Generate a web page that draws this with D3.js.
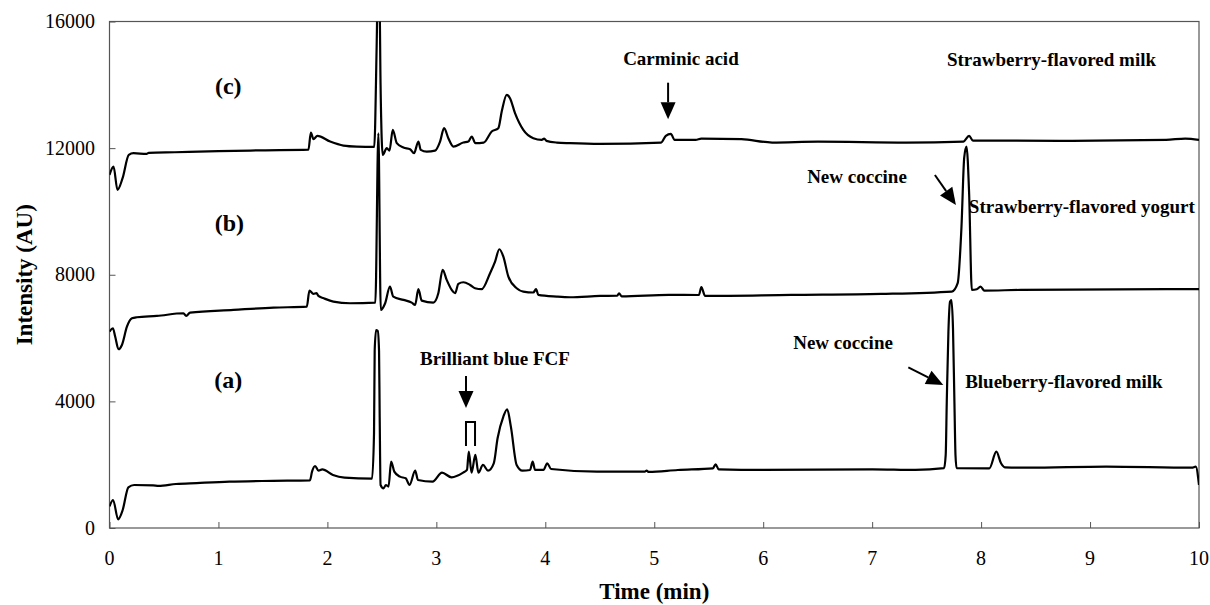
<!DOCTYPE html>
<html>
<head>
<meta charset="utf-8">
<script src="https://cdn.jsdelivr.net/npm/d3@7"></script>
<style>
  html, body { margin: 0; padding: 0; background: #fff; overflow: hidden; }
  svg { display: block; }
</style>
</head>
<body>
<svg width="1210" height="605"></svg>
<script>
// chromatogram traces: [time (min), intensity (AU)]
const traceA = [[0.0,680],[0.033,885],[0.079,275],[0.121,569],[0.173,1285],[0.226,1359],[0.40,1349],[0.45,1330],[0.61,1390],[0.8,1420],[1.10,1464],[1.5,1490],[1.84,1506],[1.859,1780],[1.887,1959],[1.918,1812],[1.953,1854],[2.051,1675],[2.157,1590],[2.41,1558],[2.428,3000],[2.434,5600],[2.447,6250],[2.462,6230],[2.474,5600],[2.48,3500],[2.488,1360],[2.515,1254],[2.537,1359],[2.561,1306],[2.585,2095],[2.614,1780],[2.666,1622],[2.719,1570],[2.754,1359],[2.806,1812],[2.831,1517],[2.965,1464],[3.052,1748],[3.14,1601],[3.246,1748],[3.281,1833],[3.298,2411],[3.323,1748],[3.358,2307],[3.386,1748],[3.428,1991],[3.474,1812],[3.527,2044],[3.562,2835],[3.615,3517],[3.65,3751],[3.684,3201],[3.737,1991],[3.79,1812],[3.86,1833],[3.884,2095],[3.906,1833],[3.983,1833],[4.018,2044],[4.053,1864],[4.474,1780],[4.913,1780],[4.93,1810],[4.95,1770],[5.216,1833],[5.539,1886],[5.563,2012],[5.592,1854],[6.003,1833],[7.004,1854],[7.397,1833],[7.66,1890],[7.675,2300],[7.685,4000],[7.70,6200],[7.715,7150],[7.728,7200],[7.742,6300],[7.755,4000],[7.765,2300],[7.775,1890],[8.076,1886],[8.14,2411],[8.183,2044],[8.218,1918],[8.433,1905],[9.148,1937],[9.934,1905],[9.97,1937],[10.0,1359]];

const traceB = [[0.0,6203],[0.031,6310],[0.052,6050],[0.083,5647],[0.114,5783],[0.16,6361],[0.206,6626],[0.251,6658],[0.435,6699],[0.679,6784],[0.704,6699],[0.74,6804],[1.138,6889],[1.505,6962],[1.811,6993],[1.835,7499],[1.872,7394],[1.9,7420],[1.917,7331],[1.966,7258],[2.055,7151],[2.208,7100],[2.44,7120],[2.468,12470],[2.49,6889],[2.53,7100],[2.574,7625],[2.605,7309],[2.698,7205],[2.774,7120],[2.805,7047],[2.835,7543],[2.866,7183],[2.972,7120],[3.018,7416],[3.058,8153],[3.095,7837],[3.141,7521],[3.172,7416],[3.202,7710],[3.248,7763],[3.309,7679],[3.355,7574],[3.416,7543],[3.493,8048],[3.539,8415],[3.578,8806],[3.615,8573],[3.661,7941],[3.737,7574],[3.798,7467],[3.89,7440],[3.915,7543],[3.936,7363],[4.105,7309],[4.227,7290],[4.503,7331],[4.66,7340],[4.677,7416],[4.70,7320],[5.134,7363],[5.41,7360],[5.432,7606],[5.467,7331],[6.257,7363],[7.083,7394],[7.732,7468],[7.785,7732],[7.82,9521],[7.845,11700],[7.866,12050],[7.89,10577],[7.915,7521],[7.96,7543],[7.995,7625],[8.03,7499],[8.364,7521],[9.698,7543],[10.0,7543]];

const traceC = [[0.0,11155],[0.037,11417],[0.073,10681],[0.12,11050],[0.177,11787],[0.22,11840],[0.34,11818],[0.36,11850],[0.6,11870],[1.0,11905],[1.4,11930],[1.826,11950],[1.848,12492],[1.872,12283],[1.908,12387],[2.025,12207],[2.147,12081],[2.27,12049],[2.43,12040],[2.452,15200],[2.462,17000],[2.478,16800],[2.488,14000],[2.508,11787],[2.545,12000],[2.57,11922],[2.6,12577],[2.637,12157],[2.698,12018],[2.759,11966],[2.795,11840],[2.835,12207],[2.857,11945],[2.912,11891],[2.988,11922],[3.034,12207],[3.071,12631],[3.11,12313],[3.156,12049],[3.248,12176],[3.294,12207],[3.325,12365],[3.358,12157],[3.434,12176],[3.508,12524],[3.569,12631],[3.6,13155],[3.646,13683],[3.676,13578],[3.722,13104],[3.798,12577],[3.89,12313],[3.967,12261],[3.99,12300],[4.01,12230],[4.105,12176],[4.227,12157],[4.502,12134],[5.063,12176],[5.106,12387],[5.152,12450],[5.187,12261],[5.38,12261],[5.432,12302],[5.801,12282],[6.082,12176],[6.503,12207],[7.311,12176],[7.838,12207],[7.89,12387],[7.925,12239],[8.715,12229],[9.698,12261],[9.874,12302],[10.0,12261]];

const xTicks = [0, 1, 2, 3, 4, 5, 6, 7, 8, 9, 10];
const yTicks = [0, 4000, 8000, 12000, 16000];

// labels, anchored in data units [time, intensity]
const traceLabels = [
  { text: "(c)", t: 1.09, v: 13710 },
  { text: "(b)", t: 1.10, v: 9382 },
  { text: "(a)", t: 1.09, v: 4423 }
];
const notes = [
  { text: "Carminic acid", t: 5.245, v: 14626 },
  { text: "Strawberry-flavored milk", t: 8.646, v: 14595 },
  { text: "New coccine", t: 6.861, v: 10899 },
  { text: "Strawberry-flavored yogurt", t: 8.925, v: 9951 },
  { text: "Brilliant blue FCF", t: 3.538, v: 5149 },
  { text: "New coccine", t: 6.733, v: 5655 },
  { text: "Blueberry-flavored milk", t: 8.76, v: 4423 }
];
// arrows: from [t, v] to [t, v]
const arrows = [
  [[5.127, 14067], [5.127, 12911]],
  [[3.272, 4802], [3.272, 3791]],
  [[7.576, 11151], [7.769, 10203]],
  [[7.332, 5076], [7.653, 4517]]
];
const bracket = { t0: 3.272, t1: 3.355, vTop: 3349, vBottom: 2590 };

const svg = d3.select("svg");
const margin = { top: 21.5, right: 11, bottom: 77, left: 109.5 };
const width = +svg.attr("width");
const height = +svg.attr("height");
const innerWidth = width - margin.left - margin.right;
const innerHeight = height - margin.top - margin.bottom;
const serif = "Liberation Serif, Times New Roman, serif";

const g = svg.append("g")
  .attr("transform", `translate(${margin.left},${margin.top})`)
  .attr("font-family", serif)
  .attr("fill", "#000");

const x = d3.scaleLinear().domain([0, 10]).range([0, innerWidth]);
const y = d3.scaleLinear().domain([0, 16000]).range([innerHeight, 0]);

g.append("clipPath").attr("id", "plot-clip")
  .append("rect").attr("width", innerWidth).attr("height", innerHeight);

// Axes: inward tick marks from d3, labels placed with the same scales
const xAxis = g.append("g")
  .attr("transform", `translate(0,${innerHeight})`)
  .call(d3.axisBottom(x).tickValues(xTicks).tickSizeInner(-6).tickSizeOuter(0).tickFormat(""));
const yAxis = g.append("g")
  .call(d3.axisLeft(y).tickValues(yTicks).tickSizeInner(-6).tickSizeOuter(0).tickFormat(""));

[xAxis, yAxis].forEach(a => {
  a.select(".domain").remove();
  a.selectAll(".tick line").attr("stroke", "#555");
});

g.selectAll(".x-label")
  .data(xTicks)
  .enter().append("text")
  .attr("class", "x-label")
  .attr("x", d => x(d))
  .attr("y", innerHeight + 37)
  .attr("text-anchor", "middle")
  .attr("font-size", 20)
  .text(d => d);

g.selectAll(".y-label")
  .data(yTicks)
  .enter().append("text")
  .attr("class", "y-label")
  .attr("x", -14.5)
  .attr("y", d => y(d) + 6.5)
  .attr("text-anchor", "end")
  .attr("font-size", 20)
  .text(d => d);

// frame
g.append("rect")
  .attr("width", innerWidth)
  .attr("height", innerHeight)
  .attr("fill", "none")
  .attr("stroke", "#555")
  .attr("stroke-width", 1.2);

// traces
const line = d3.line()
  .x(d => x(d[0]))
  .y(d => y(d[1]))
  .curve(d3.curveMonotoneX);

g.append("g").attr("clip-path", "url(#plot-clip)")
  .selectAll("path")
  .data([traceA, traceB, traceC])
  .enter().append("path")
  .attr("d", line)
  .attr("fill", "none")
  .attr("stroke", "#000")
  .attr("stroke-width", 2.2)
  .attr("stroke-linejoin", "round");

// trace labels
g.selectAll(".trace-label")
  .data(traceLabels)
  .enter().append("text")
  .attr("class", "trace-label")
  .attr("x", d => x(d.t))
  .attr("y", d => y(d.v))
  .attr("text-anchor", "middle")
  .attr("font-size", 24)
  .attr("font-weight", "bold")
  .text(d => d.text);

// peak notes
g.selectAll(".note")
  .data(notes)
  .enter().append("text")
  .attr("class", "note")
  .attr("x", d => x(d.t))
  .attr("y", d => y(d.v))
  .attr("text-anchor", "middle")
  .attr("font-size", 19)
  .attr("font-weight", "bold")
  .text(d => d.text);

// arrows
const headLen = 17, headHalf = 7.5;
arrows.forEach(([from, to]) => {
  const x1 = x(from[0]), y1 = y(from[1]);
  const x2 = x(to[0]), y2 = y(to[1]);
  const len = Math.hypot(x2 - x1, y2 - y1);
  const ux = (x2 - x1) / len, uy = (y2 - y1) / len;
  const bx = x2 - ux * headLen, by = y2 - uy * headLen;
  g.append("line")
    .attr("x1", x1).attr("y1", y1)
    .attr("x2", bx).attr("y2", by)
    .attr("stroke", "#000")
    .attr("stroke-width", 2);
  g.append("path")
    .attr("d", `M${x2},${y2}L${bx - uy * headHalf},${by + ux * headHalf}L${bx + uy * headHalf},${by - ux * headHalf}Z`)
    .attr("fill", "#000");
});

// bracket over the two brilliant blue peaks
g.append("path")
  .attr("d", `M${x(bracket.t0)},${y(bracket.vBottom)}V${y(bracket.vTop)}H${x(bracket.t1)}V${y(bracket.vBottom)}`)
  .attr("fill", "none")
  .attr("stroke", "#000")
  .attr("stroke-width", 2);

// axis titles
g.append("text")
  .attr("x", innerWidth / 2)
  .attr("y", innerHeight + 71)
  .attr("text-anchor", "middle")
  .attr("font-size", 23)
  .attr("font-weight", "bold")
  .text("Time (min)");

g.append("text")
  .attr("transform", "rotate(-90)")
  .attr("x", -innerHeight / 2)
  .attr("y", -78)
  .attr("text-anchor", "middle")
  .attr("font-size", 23)
  .attr("font-weight", "bold")
  .text("Intensity (AU)");
</script>
</body>
</html>
